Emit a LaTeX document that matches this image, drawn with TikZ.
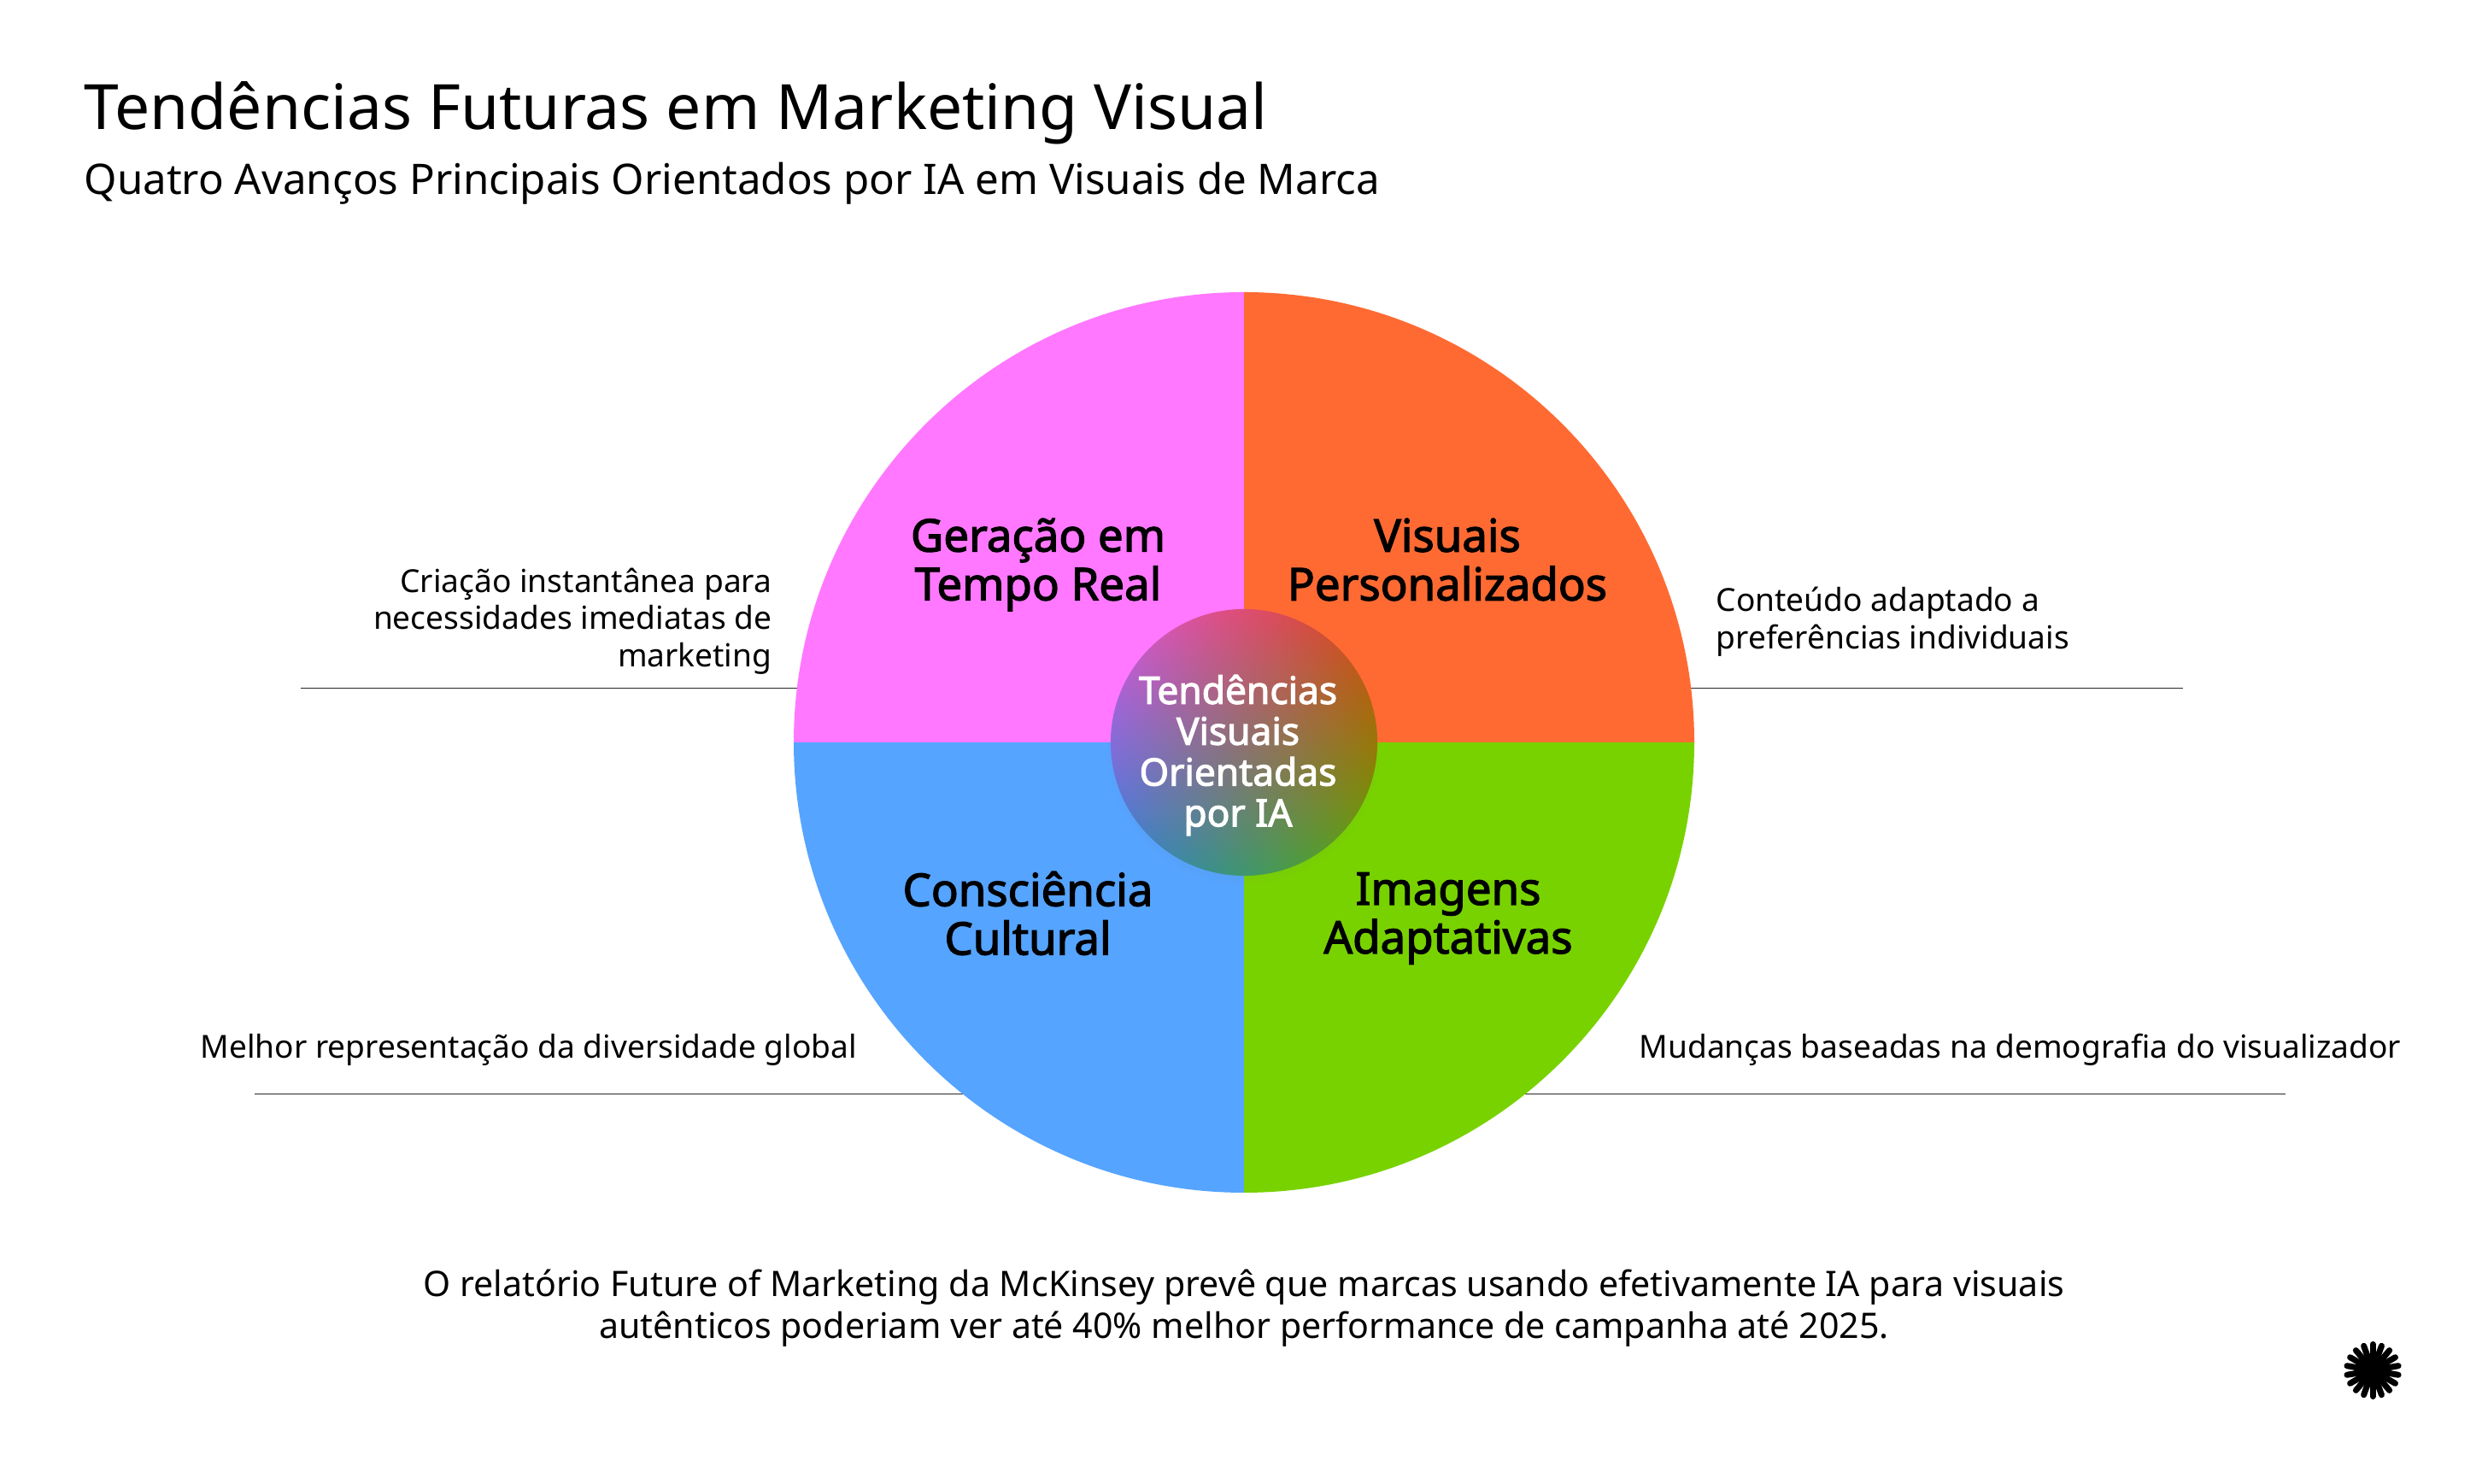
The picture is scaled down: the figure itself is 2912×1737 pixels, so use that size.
\documentclass[tikz,border=0pt]{standalone}
\usepackage{fontspec}
\setmainfont{Noto Sans}[BoldFont={Noto Sans}, BoldFeatures={FakeBold=2.4}]
\usetikzlibrary{positioning, shadows, shadings}

\definecolor{quadPink}{HTML}{FF78FF}
\definecolor{quadOrange}{HTML}{FF6A33}
\definecolor{quadBlue}{HTML}{55A4FF}
\definecolor{quadGreen}{HTML}{78D200}
\definecolor{coreUL}{RGB}{225,85,215}
\definecolor{coreUR}{RGB}{218,68,15}
\definecolor{coreLL}{RGB}{40,130,220}
\definecolor{coreLR}{RGB}{85,170,0}

\tikzset{
    titleText/.style={font=\fontsize{20.8}{26}\selectfont, anchor=west, inner sep=0pt},
    subText/.style={font=\fontsize{14}{18}\selectfont, anchor=west, inner sep=0pt},
    quadLabel/.style={font=\fontsize{15}{16.2}\selectfont\bfseries, align=center, inner sep=0pt},
    sideNote/.style={font=\fontsize{10.55}{12.4}\selectfont, inner sep=0pt},
    leader/.style={line width=0.28pt, black!85},
}

\begin{document}
\begin{tikzpicture}[x=0.01cm, y=0.01cm]
    \useasboundingbox (0,0) rectangle (2912,1737);
    \fill[white] (0,0) rectangle (2912,1737);

    % Heading
    \node[titleText] (heading) at (98,1605) {Tendências Futuras em Marketing Visual};
    \node[subText] (subheading) at (98,1522) {Quatro Avanços Principais Orientados por IA em Visuais de Marca};

    % Leader lines, behind the pie
    \coordinate (topLeftA) at (352,931);
    \coordinate (topLeftB) at (960,931);
    \coordinate (topRightA) at (1950,931);
    \coordinate (topRightB) at (2555,931);
    \coordinate (lowLeftA) at (298,456);
    \coordinate (lowLeftB) at (1150,456);
    \coordinate (lowRightA) at (1760,456);
    \coordinate (lowRightB) at (2675,456);
    \draw[leader] (topLeftA) -- (topLeftB);
    \draw[leader] (topRightA) -- (topRightB);
    \draw[leader] (lowLeftA) -- (lowLeftB);
    \draw[leader] (lowRightA) -- (lowRightB);

    % Pie
    \coordinate (hub) at (1456,868);
    \fill[quadPink] (hub) -- ++(0,527) arc (90:180:527) -- cycle;
    \fill[quadOrange] (hub) -- ++(527,0) arc (0:90:527) -- cycle;
    \fill[quadBlue] (hub) -- ++(-527,0) arc (180:270:527) -- cycle;
    \fill[quadGreen] (hub) -- ++(0,-527) arc (270:360:527) -- cycle;

    \node[quadLabel] (realTime) at (1215,1076) {Geração em\\Tempo Real};
    \node[quadLabel] (personal) at (1694,1082) {Visuais\\Personalizados};
    \node[quadLabel] (cultural) at (1203,668) {Consciência\\Cultural};
    \node[quadLabel] (adaptive) at (1695,662) {Imagens\\Adaptativas};

    % Centre
    \node[circle, inner sep=0pt, minimum size=3.12cm, circular drop shadow={shadow scale=1.03, shadow xshift=0pt, shadow yshift=-2pt, opacity=0.12},
        upper left=coreUL, upper right=coreUR, lower left=coreLL, lower right=coreLR] (core) at (hub) {};
    \node[font=\fontsize{12.6}{13.6}\selectfont\bfseries, text=white, align=center, inner sep=0pt] (coreText) at (1449,853) {Tendências\\Visuais\\Orientadas\\por IA};

    % Notes
    \node[sideNote, align=right, anchor=east] (noteReal) at (904,1010) {Criação instantânea para\\necessidades imediatas de\\marketing};
    \node[sideNote, align=left, anchor=west] (notePersonal) at (2008,1009) {Conteúdo adaptado a\\preferências individuais};
    \node[sideNote, anchor=west] (noteCultural) at (234,508) {Melhor representação da diversidade global};
    \node[sideNote, anchor=west] (noteAdaptive) at (1918,508) {Mudanças baseadas na demografia do visualizador};

    % Footer
    \node[font=\fontsize{11.7}{13.9}\selectfont, align=center, inner sep=0pt] (footer) at (1456,206) {O relatório Future of Marketing da McKinsey prevê que marcas usando efetivamente IA para visuais\\autênticos poderiam ver até 40\% melhor performance de campanha até 2025.};

    % Logo
    \coordinate (logo) at (2777,133);
    \fill[black] (logo) circle (18);
    \foreach \ang in {10,30,...,350}
        \draw[black, line width=2pt, line cap=round] (logo) -- ++(\ang:30.5);
\end{tikzpicture}
\end{document}
